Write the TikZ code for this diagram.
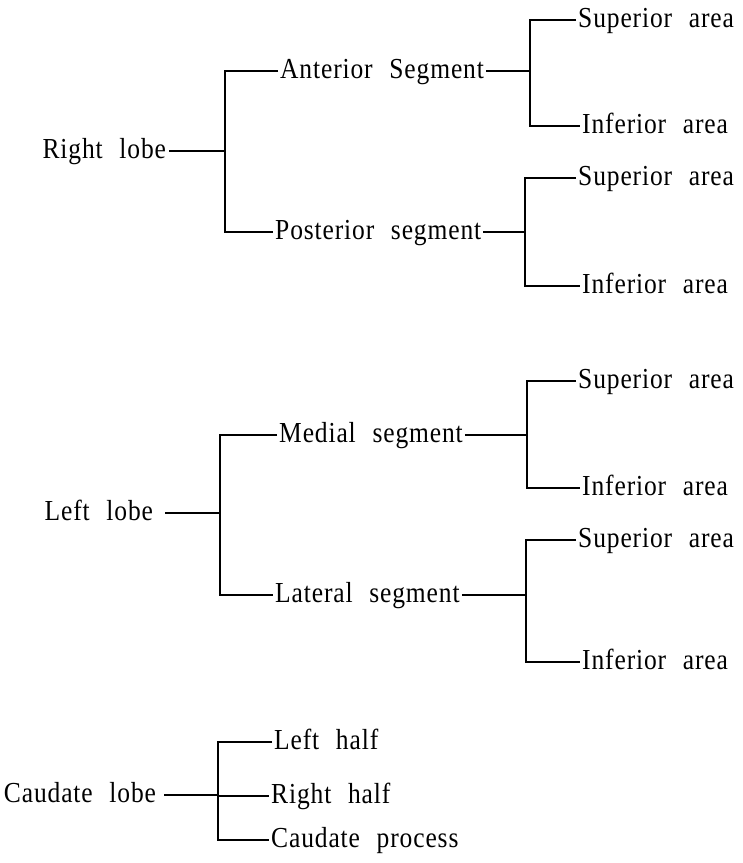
\documentclass[tikz,border=0pt]{standalone}
\usepackage{fontspec}
\setmainfont{Liberation Serif}[FakeStretch=0.88, LetterSpace=3, WordSpace=2.3]
\usepackage{tikz}
\usetikzlibrary{positioning, calc}

\begin{document}
\begin{tikzpicture}[
  x=1pt, y=-1pt,
  font=\fontsize{29}{34}\selectfont,
  lbl/.style={inner sep=2pt, text height=14pt, text depth=0pt},
  root/.style={lbl, anchor=east},
  leaf/.style={lbl, anchor=west},
  stem/.style={line width=1.4pt},
]
  \useasboundingbox (0,0) rectangle (743,863);

  % Right lobe
  \node[root, outer xsep=1pt] (rlobe) at (169,151) {Right lobe};
  \coordinate (rj) at (225,151);
  \node[leaf] (ant)  at (278,71)  {Anterior Segment};
  \node[leaf] (post) at (273,232) {Posterior segment};
  \coordinate (aj) at (530,71);
  \coordinate (pj) at (525,232);
  \node[leaf] (antsup) at (576,20)  {Superior area};
  \node[leaf] (antinf) at (580,126) {Inferior area};
  \node[leaf] (possup) at (576,178) {Superior area};
  \node[leaf] (posinf) at (580,286) {Inferior area};

  % Left lobe
  \node[root, outer xsep=10pt] (llobe) at (165,513) {Left lobe};
  \coordinate (lj) at (220,513);
  \node[leaf] (med) at (277,435) {Medial segment};
  \node[leaf] (lat) at (273,595) {Lateral segment};
  \coordinate (mj) at (527,435);
  \coordinate (tj) at (526,595);
  \node[leaf] (medsup) at (576,381) {Superior area};
  \node[leaf] (medinf) at (580,488) {Inferior area};
  \node[leaf] (latsup) at (576,540) {Superior area};
  \node[leaf] (latinf) at (580,662) {Inferior area};

  % Caudate lobe
  \node[root, outer xsep=6pt] (clobe) at (164,795) {Caudate lobe};
  \coordinate (cj) at (218,795);
  \node[leaf] (lhalf) at (272,742) {Left half};
  \node[leaf] (rhalf) at (269,796) {Right half};
  \node[leaf] (cproc) at (269,840) {Caudate process};

  % Brackets
  \draw[stem] (rlobe) -- (rj);
  \draw[stem] (ant.west) -- (ant.west -| rj) -- (post.west -| rj) -- (post.west);
  \draw[stem] (ant) -- (aj);
  \draw[stem] (antsup.west) -- (antsup.west -| aj) -- (antinf.west -| aj) -- (antinf.west);
  \draw[stem] (post) -- (pj);
  \draw[stem] (possup.west) -- (possup.west -| pj) -- (posinf.west -| pj) -- (posinf.west);

  \draw[stem] (llobe) -- (lj);
  \draw[stem] (med.west) -- (med.west -| lj) -- (lat.west -| lj) -- (lat.west);
  \draw[stem] (med) -- (mj);
  \draw[stem] (medsup.west) -- (medsup.west -| mj) -- (medinf.west -| mj) -- (medinf.west);
  \draw[stem] (lat) -- (tj);
  \draw[stem] (latsup.west) -- (latsup.west -| tj) -- (latinf.west -| tj) -- (latinf.west);

  \draw[stem] (clobe) -- (cj);
  \draw[stem] (lhalf.west) -- (lhalf.west -| cj) -- (cproc.west -| cj) -- (cproc.west);
  \draw[stem] (rhalf.west -| cj) -- (rhalf.west);
\end{tikzpicture}
\end{document}
